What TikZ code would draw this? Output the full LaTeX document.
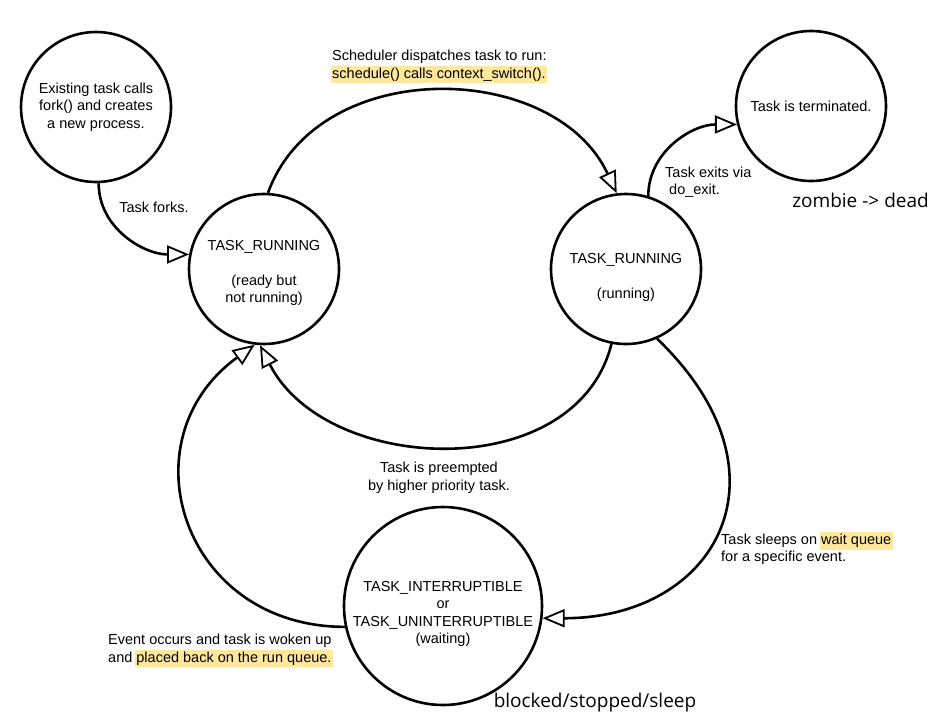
\documentclass[tikz,border=0pt]{standalone}
\usepackage{fontspec}
\setmainfont{Liberation Sans}
\newfontfamily\bigsans{Open Sans}
\usetikzlibrary{arrows.meta}
\definecolor{hl}{RGB}{255,232,156}
\newcommand\hlt[1]{{\setlength\fboxsep{0pt}\kern-1.5pt\colorbox{hl}{\kern1.5pt\strut#1\kern1.5pt}\kern-1.5pt}}
\begin{document}
\begin{tikzpicture}[x=1pt,y=-1pt,
  font=\fontsize{14.5}{17.5}\selectfont,
  state/.style={circle,draw,line width=2.6pt,minimum size=150pt,inner sep=0pt,align=center},
  txt/.style={align=center,inner sep=0pt},
  lbl/.style={align=left,inner sep=0pt,anchor=north west},
  conn/.style={line width=2.6pt,-{Triangle[open,length=22pt,width=18pt,line width=1.8pt]}},
  big/.style={font=\bigsans\fontsize{19}{22}\selectfont,inner sep=0pt,anchor=base}]
\useasboundingbox (0,0) rectangle (946,721);
% states
\node[state] (A) at (96,107) {Existing task calls\\fork() and creates\\a new process.};
\node[state] (B) at (264,269) {};
\node[txt] (Bt) at (264,273) {TASK\_RUNNING\\[17.5pt](ready but\\not running)};
\node[state] (C) at (626,269) {};
\node[txt] (Ct) at (626,277) {TASK\_RUNNING\\[17.5pt](running)};
\node[state] (D) at (811,106) {Task is terminated.};
\node[state,minimum size=198pt] (E) at (443,606) {};
\node[txt] (Et) at (443,614) {TASK\_INTERRUPTIBLE\\or\\TASK\_UNINTERRUPTIBLE\\(waiting)};
% connectors
\draw[conn] (A.272) to[out=-90,in=180] (B.169);
\draw[conn] (B.87) to[out=70,in=115,looseness=1.08] (C.97);
\draw[conn] (C.73) to[out=90,in=180] (D.194);
\draw[conn] (C.259) to[out=256,in=297,looseness=1.06] (B.267);
\draw[conn] (E.192) to[out=180,in=216,looseness=1.4] (B.263);
\draw[conn] (C.294) .. controls +(140,134) and +(175,0) .. (E.353);
% labels
\node[txt] (Lfork) at (154,207.5) {Task forks.};
\node[lbl] (Lsched) at (332,50) {Scheduler dispatches task to run:\\\hlt{schedule() calls context\_switch().}};
\node[lbl] (Lexit) at (665,166.5) {Task exits via\\\hspace*{4pt}do\_exit.};
\node[txt,anchor=north] (Lpre) at (439,462) {Task is preempted\\by higher priority task.};
\node[lbl] (Lsleep) at (721,532) {Task sleeps on \hlt{wait queue}\\for a specific event.};
\node[lbl] (Lwake) at (108,634) {Event occurs and task is woken up\\and \hlt{placed back on the run queue.}};
\node[big] (Lzombie) at (860.5,207) {zombie -> dead};
\node[big] (Lblocked) at (595,707) {blocked/stopped/sleep};
\end{tikzpicture}
\end{document}
